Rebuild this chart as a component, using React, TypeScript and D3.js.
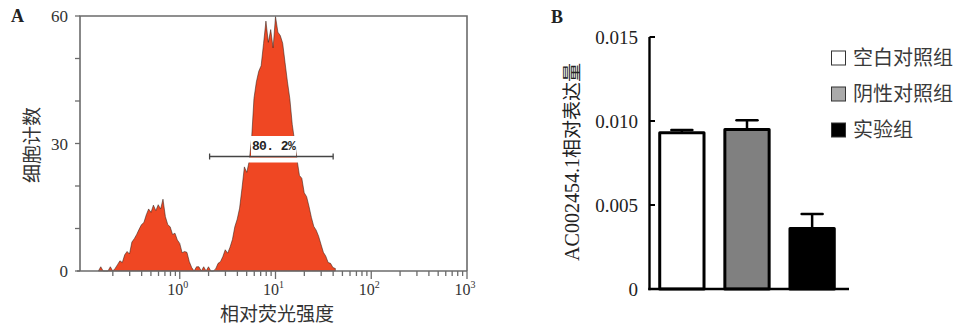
import { useEffect, useRef } from "react";
import * as d3 from "d3";

// ---- Panel A: flow cytometry histogram (channels on a log10 axis)
const histStartLog = -0.85;
const histStepLog = 0.025;
const histCounts = [
  0, 1, 0, 0, 0, 1, 0, 0.6, 1.5, 2.4,
  2.0, 3.8, 4.6, 4.0, 6.8, 7.6, 8.6, 9.8, 10.9, 11.4,
  13.2, 14.6, 13.8, 15.5, 14.2, 15.6, 14.6, 16.9, 12.8, 10.9,
  10.4, 8.6, 8.9, 7.3, 6.5, 4.3, 4.6, 4.4, 2.2, 0.8,
  0, 1, 1, 0, 1, 0, 1, 0, 0, 0.5,
  1.8, 2.2, 3.4, 5.0, 4.2, 5.6, 7.4, 10.4, 12.2, 14.8,
  19.5, 24.5, 23.2, 25.8, 31, 40.6, 44.5, 47, 48.3, 53.5,
  58.8, 53.8, 56.8, 52.5, 59.9, 56.2, 55.4, 53.6, 49, 44.5,
  40.5, 34.5, 30.5, 26.2, 22.5, 21.8, 18.4, 17.5, 15.2, 12.6,
  10.5, 9.6, 8.2, 6.3, 4.4, 3.5, 2.0, 1.8, 0.8, 0.6,
];
const gateRange = [2.05, 40];
const gateLabel = "80. 2%";
const xMajorA = [1, 10, 100, 1000];
const xMajorExp = ["0", "1", "2", "3"];
const yLabelTicksA = [0, 30, 60];
const yTicksA = [0, 10, 20, 30, 40, 50, 60];

// ---- Panel B: relative expression
const groups = ["空白对照组", "阴性对照组", "实验组"];
const means = [0.0093, 0.0095, 0.0036];
const errs = [0.00016, 0.00054, 0.00086];
const barFills = ["#ffffff", "#808080", "#000000"];
const legendFills = ["#ffffff", "#aaaaaa", "#000000"];
const yTicksB = [0, 0.005, 0.01, 0.015];
const yTickLabelsB = ["0", "0.005", "0.010", "0.015"];

const SERIF = "'Liberation Serif', 'Times New Roman', serif";
const CJK = "'Noto Sans CJK SC', 'Noto Sans', sans-serif";

export default function App() {
  const ref = useRef<SVGSVGElement>(null);

  useEffect(() => {
    if (!ref.current) return;
    const svg = d3.select(ref.current);
    svg.selectAll("*").remove();

    // ================= Panel A =================
    const xA = d3.scaleLog().domain([10 ** -1.0418, 1000]).range([80, 467]);
    const yA = d3.scaleLinear().domain([0, 60]).range([271, 16]);
    const gA = svg.append("g");

    const area = d3
      .area<number>()
      .x((_, i) => xA(10 ** (histStartLog + i * histStepLog)))
      .y0(yA(0))
      .y1((d) => yA(d));

    gA.append("path")
      .datum(histCounts)
      .attr("d", area)
      .attr("fill", "#ef4723")
      .attr("stroke", "#2a1a14")
      .attr("stroke-width", 0.7)
      .attr("stroke-opacity", 0.75)
      .attr("stroke-linejoin", "miter");

    // gate marker with its label box
    const gx0 = xA(gateRange[0]);
    const gx1 = xA(gateRange[1]);
    const gy = 156.5;
    gA.append("rect").attr("x", 243).attr("y", gy + 1).attr("width", 62).attr("height", 5).attr("fill", "#fff");
    gA.append("rect").attr("x", 251).attr("y", 136).attr("width", 45).attr("height", gy - 136).attr("fill", "#fff");
    gA.append("line").attr("x1", gx0).attr("x2", gx1).attr("y1", gy).attr("y2", gy).attr("stroke", "#444").attr("stroke-width", 1.3);
    [gx0, gx1].forEach((x) => {
      gA.append("line").attr("x1", x).attr("x2", x).attr("y1", gy - 3).attr("y2", gy + 3).attr("stroke", "#444").attr("stroke-width", 1.3);
    });
    gA.append("text")
      .attr("x", 273.5)
      .attr("y", 150)
      .attr("text-anchor", "middle")
      .style("font-family", "'Liberation Mono', 'DejaVu Sans Mono', monospace")
      .style("font-weight", "bold")
      .style("font-size", "13px")
      .style("letter-spacing", "-0.6px")
      .attr("fill", "#222")
      .text(gateLabel);

    // frame
    const frameColor = "#6b6b6b";
    gA.append("path")
      .attr("d", `M80,271 V16 H467 V271`)
      .attr("fill", "none")
      .attr("stroke", frameColor)
      .attr("stroke-width", 1.6);
    gA.append("line").attr("x1", 77).attr("x2", 467).attr("y1", 271).attr("y2", 271).attr("stroke", frameColor).attr("stroke-width", 1.6);

    // x ticks (minor + major)
    const minor = xA.ticks().filter((t) => t >= 0.19 && t <= 1000);
    minor.forEach((t) => {
      const isMajor = xMajorA.includes(t);
      gA.append("line")
        .attr("x1", xA(t))
        .attr("x2", xA(t))
        .attr("y1", 271)
        .attr("y2", isMajor ? 279 : 276)
        .attr("stroke", frameColor)
        .attr("stroke-width", 1.3);
    });
    xMajorA.forEach((t, i) => {
      const txt = gA.append("text")
        .attr("x", xA(t) - 2)
        .attr("y", 295)
        .attr("text-anchor", "middle")
        .style("font-family", SERIF)
        .style("font-size", "16px")
        .attr("fill", "#333");
      txt.append("tspan").text("10");
      txt.append("tspan").attr("dy", -7).style("font-size", "10px").text(xMajorExp[i]);
    });

    // y ticks
    yTicksA.forEach((t) => {
      gA.append("line").attr("x1", 75).attr("x2", 80).attr("y1", yA(t)).attr("y2", yA(t)).attr("stroke", frameColor).attr("stroke-width", 1.3);
    });
    yLabelTicksA.forEach((t) => {
      gA.append("text")
        .attr("x", 68)
        .attr("y", yA(t) + 6)
        .attr("text-anchor", "end")
        .style("font-family", SERIF)
        .style("font-size", "17px")
        .attr("fill", "#333")
        .text(t);
    });

    gA.append("text")
      .attr("x", 277)
      .attr("y", 321)
      .attr("text-anchor", "middle")
      .style("font-family", CJK)
      .style("font-size", "19px")
      .attr("fill", "#333")
      .text("相对荧光强度");
    gA.append("text")
      .attr("transform", "translate(39,145) rotate(-90)")
      .attr("text-anchor", "middle")
      .style("font-family", CJK)
      .style("font-size", "19px")
      .attr("fill", "#333")
      .text("细胞计数");
    gA.append("text")
      .attr("x", 11)
      .attr("y", 22)
      .style("font-family", SERIF)
      .style("font-weight", "bold")
      .style("font-size", "18px")
      .attr("fill", "#222")
      .text("A");

    // ================= Panel B =================
    const gB = svg.append("g");
    const xB = d3.scaleBand<string>().domain(groups).range([648, 846]).paddingInner(0.32).paddingOuter(0.18);
    const yB = d3.scaleLinear().domain([0, 0.015]).range([289, 37]);

    groups.forEach((g, i) => {
      const cx = xB(g)! + xB.bandwidth() / 2;
      const top = yB(means[i] + errs[i]);
      gB.append("line").attr("x1", cx).attr("x2", cx).attr("y1", yB(means[i])).attr("y2", top).attr("stroke", "#000").attr("stroke-width", 2.5);
      gB.append("line")
        .attr("x1", cx - 10.5)
        .attr("x2", cx + 10.5)
        .attr("y1", top)
        .attr("y2", top)
        .attr("stroke", "#000")
        .attr("stroke-width", 2.5)
        .attr("stroke-linecap", "round");
      gB.append("rect")
        .attr("x", xB(g)!)
        .attr("y", yB(means[i]))
        .attr("width", xB.bandwidth())
        .attr("height", yB(0) - yB(means[i]))
        .attr("fill", barFills[i])
        .attr("stroke", "#000")
        .attr("stroke-width", 3)
        .attr("stroke-linejoin", "round");
    });

    gB.append("line").attr("x1", 649.5).attr("x2", 649.5).attr("y1", yB(0.015)).attr("y2", yB(0) + 1.2).attr("stroke", "#000").attr("stroke-width", 2.4);
    gB.append("line").attr("x1", 648.3).attr("x2", 849).attr("y1", yB(0)).attr("y2", yB(0)).attr("stroke", "#000").attr("stroke-width", 2.4);
    yTicksB.forEach((t, i) => {
      gB.append("line").attr("x1", 649.5).attr("x2", 655).attr("y1", yB(t)).attr("y2", yB(t)).attr("stroke", "#000").attr("stroke-width", 2);
      gB.append("text")
        .attr("x", 638)
        .attr("y", yB(t) + 6.5)
        .attr("text-anchor", "end")
        .style("font-family", SERIF)
        .style("font-size", "19px")
        .attr("fill", "#222")
        .text(yTickLabelsB[i]);
    });

    gB.append("text")
      .attr("transform", "translate(579,162) rotate(-90)")
      .attr("text-anchor", "middle")
      .style("font-family", SERIF)
      .style("font-size", "20px")
      .attr("fill", "#222")
      .call((t) => {
        t.append("tspan").text("AC002454.1");
        t.append("tspan").style("font-family", CJK).style("font-size", "19px").text("相对表达量");
      });

    gB.append("text")
      .attr("x", 551)
      .attr("y", 23)
      .style("font-family", SERIF)
      .style("font-weight", "bold")
      .style("font-size", "18px")
      .attr("fill", "#222")
      .text("B");

    // legend
    groups.forEach((g, i) => {
      const cy = 58 + i * 36;
      gB.append("rect")
        .attr("x", 831.5)
        .attr("y", cy - 7)
        .attr("width", 14)
        .attr("height", 14)
        .attr("fill", legendFills[i])
        .attr("stroke", "#333")
        .attr("stroke-width", 1);
      gB.append("text")
        .attr("x", 853)
        .attr("y", cy + 7)
        .style("font-family", CJK)
        .style("font-size", "20px")
        .attr("fill", "#3a3a3a")
        .text(g);
    });
  }, []);

  return (
    <svg
      ref={ref}
      width={954}
      height={327}
      style={{ position: "absolute", left: 0, top: 0, background: "#fff" }}
    />
  );
}
